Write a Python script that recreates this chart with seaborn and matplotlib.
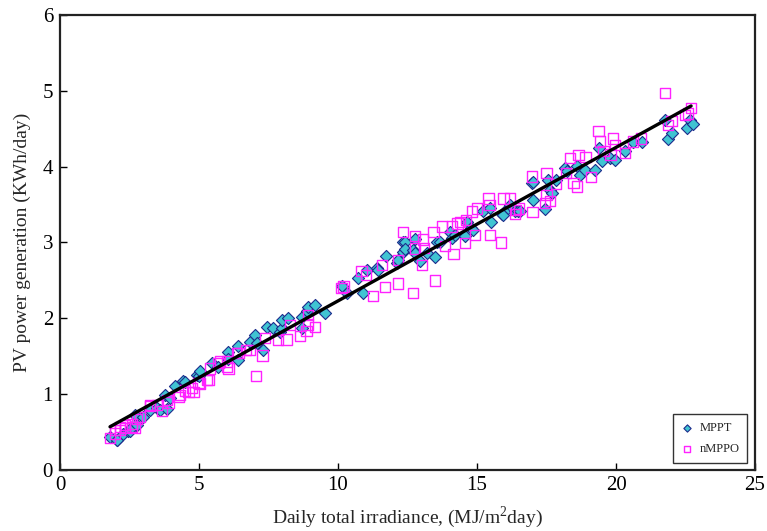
import matplotlib
matplotlib.use("Agg")
import matplotlib.pyplot as plt
import seaborn as sns
import numpy as np
import pandas as pd

# ---- data ----
mppt_x = [1.80, 2.04, 2.06, 2.28, 2.46, 2.52, 2.58, 2.70, 2.76, 3.00, 3.24, 3.48, 3.60, 3.78, 3.84,
          3.96, 4.14, 4.44, 4.50, 4.92, 5.00, 5.04, 5.45, 5.70, 6.06, 6.06, 6.42, 6.42, 6.83, 7.01,
          7.07, 7.31, 7.43, 7.67, 7.91, 7.97, 7.97, 8.21, 8.69, 8.69, 8.87, 8.93, 9.17, 9.53,
          10.13, 10.31, 10.73, 10.91, 11.03, 11.39, 11.45, 11.73, 12.11, 12.15, 12.35, 12.35, 12.41,
          12.41, 12.70, 12.77, 12.77, 12.95, 13.19, 13.49, 13.55, 13.67, 14.03, 14.09, 14.20, 14.57,
          14.63, 14.80, 14.85, 15.20, 15.47, 15.49, 15.89, 15.92, 16.10, 16.19, 16.37, 16.49, 16.55,
          16.97, 17.03, 17.03, 17.45, 17.57, 17.63, 17.68, 17.84, 18.17, 18.24, 18.59, 18.71, 18.90,
          19.24, 19.37, 19.50, 19.78, 19.96, 20.32, 20.62, 20.92, 21.76, 21.88, 22.00, 22.54, 22.66,
          22.76]
mppt_y = [0.44, 0.40, 0.40, 0.47, 0.51, 0.51, 0.57, 0.72, 0.59, 0.70, 0.79, 0.82, 0.79, 0.99, 0.81,
          0.95, 1.11, 1.17, 1.16, 1.25, 1.24, 1.30, 1.41, 1.36, 1.56, 1.47, 1.63, 1.45, 1.69, 1.78,
          1.67, 1.58, 1.89, 1.87, 1.82, 1.87, 1.98, 2.00, 2.02, 1.87, 2.09, 2.15, 2.18, 2.07,
          2.42, 2.33, 2.53, 2.33, 2.64, 2.66, 2.64, 2.82, 2.73, 2.77, 3.01, 2.88, 3.01,
          2.92, 2.90, 3.05, 2.86, 2.75, 2.86, 2.81, 3.01, 3.00, 3.14, 3.06, 3.10, 3.08,
          3.27, 3.19, 3.17, 3.41, 3.45, 3.27, 3.38, 3.36, 3.45, 3.49, 3.41, 3.41, 3.42,
          3.78, 3.80, 3.56, 3.44, 3.82, 3.69, 3.65, 3.82, 3.98, 3.94, 4.01, 3.89, 3.95,
          3.96, 4.24, 4.07, 4.11, 4.09, 4.21, 4.33, 4.32, 4.62, 4.37, 4.44, 4.51, 4.62,
          4.56]

nmppo_x = [1.80, 1.98, 1.98, 2.16, 2.16, 2.34, 2.34, 2.58, 2.58, 2.70, 2.76, 2.88, 3.24, 3.24, 3.48,
           3.66, 3.84, 3.90, 4.26, 4.30, 4.50, 4.62, 4.74, 4.80, 4.98, 5.04, 5.28, 5.34, 5.40, 5.70,
           5.76, 6.00, 6.00, 6.06, 6.37, 6.42, 6.70, 6.83, 7.04, 7.28, 7.37, 7.85, 8.15, 8.27, 8.63,
           8.87, 8.93, 8.93, 9.17, 10.13, 10.20, 10.85, 11.00, 11.27, 11.57, 11.69, 12.17, 12.17,
           12.35, 12.71, 12.77, 12.77, 13.01, 13.05, 13.10, 13.43, 13.49, 13.73, 13.85, 14.10, 14.15,
           14.30, 14.39, 14.57, 14.60, 14.81, 14.93, 15.00, 15.41, 15.45, 15.47, 15.86, 15.95, 16.18,
           16.37, 16.40, 16.50, 16.97, 17.00, 17.45, 17.50, 17.50, 17.63, 17.84, 18.20, 18.35, 18.47,
           18.60, 18.65, 18.90, 19.10, 19.37, 19.42, 19.55, 19.80, 19.90, 19.96, 20.32, 20.62, 20.90,
           21.76, 21.88, 22.00, 22.48, 22.60, 22.70]
nmppo_y = [0.42, 0.48, 0.53, 0.53, 0.57, 0.55, 0.59, 0.57, 0.61, 0.56, 0.67, 0.70, 0.84, 0.86, 0.86,
           0.78, 0.92, 0.89, 0.96, 0.99, 1.05, 1.03, 1.08, 1.03, 1.15, 1.14, 1.19, 1.19, 1.34, 1.41,
           1.43, 1.36, 1.43, 1.34, 1.54, 1.54, 1.58, 1.58, 1.24, 1.51, 1.74, 1.71, 1.72, 1.91, 1.77,
           1.83, 2.04, 1.92, 1.89, 2.40, 2.42, 2.62, 2.57, 2.29, 2.70, 2.41, 2.46, 2.77,
           3.14, 2.33, 3.09, 2.92, 2.70, 3.04, 2.93, 3.14, 2.50, 3.21, 2.95, 3.21, 2.85,
           3.25, 3.27, 2.99, 3.30, 3.41, 3.10, 3.45, 3.58, 3.49, 3.10, 3.00, 3.58, 3.58,
           3.38, 3.43, 3.45, 3.87, 3.40, 3.52, 3.92, 3.63, 3.55, 3.77, 3.92, 4.11, 3.78,
           3.74, 4.15, 4.13, 3.86, 4.47, 4.33, 4.21, 4.16, 4.37, 4.29, 4.18, 4.33, 4.37,
           4.97, 4.55, 4.60, 4.68, 4.70, 4.77]

fit_x = [1.80, 22.70]
fit_y = [0.57, 4.80]

x_ticks = [0, 5, 10, 15, 20, 25]
y_ticks = [0, 1, 2, 3, 4, 5, 6]

# ---- plotting ----
sns.set_theme(style="white")
plt.rcParams['font.family'] = ['Liberation Serif', 'DejaVu Serif']
plt.rcParams['mathtext.fontset'] = 'custom'
plt.rcParams['mathtext.rm'] = 'Liberation Serif'

fig = plt.figure(figsize=(7.67, 5.31), dpi=100)
ax = fig.add_axes([0.0782, 0.1149, 0.9062, 0.8569])

sns.scatterplot(x=mppt_x, y=mppt_y, marker='D', s=38, color='#40c4d2',
                edgecolor='#1c2c8c', linewidth=0.8, ax=ax, label='MPPT', zorder=2)
sns.scatterplot(x=nmppo_x, y=nmppo_y, marker='s', s=55, facecolors='none',
                edgecolor='#ff22ff', linewidth=1.0, ax=ax, label='nMPPO', zorder=3)
sns.lineplot(x=fit_x, y=fit_y, color='black', linewidth=2.4, ax=ax, zorder=4, legend=False)

ax.set_xlim(0, 25)
ax.set_ylim(0, 6)
ax.set_xticks(x_ticks)
ax.set_yticks(y_ticks)
ax.tick_params(direction='in', length=5, width=1, labelsize=15, colors='black',
               top=False, right=False, bottom=True, left=True)
ax.tick_params(axis='x', pad=4)
ax.tick_params(axis='y', pad=5)
for sp in ax.spines.values():
    sp.set_visible(True)
    sp.set_color('#222222')
    sp.set_linewidth(1.6)

ax.set_xlabel('Daily total irradiance, (MJ/m$^2$day)', fontsize=14, labelpad=7)
ax.set_ylabel('PV power generation (KWh/day)', fontsize=14, labelpad=8)

leg = ax.legend(loc='lower right', fontsize=9, frameon=True, fancybox=False,
                edgecolor='black', markerscale=0.6, handletextpad=0.5, handlelength=1.0,
                borderpad=0.6, labelspacing=0.75, borderaxespad=0,
                bbox_to_anchor=(0.988, 0.016))
leg.get_frame().set_linewidth(1.0)

fig.savefig('out.png', dpi=100)
